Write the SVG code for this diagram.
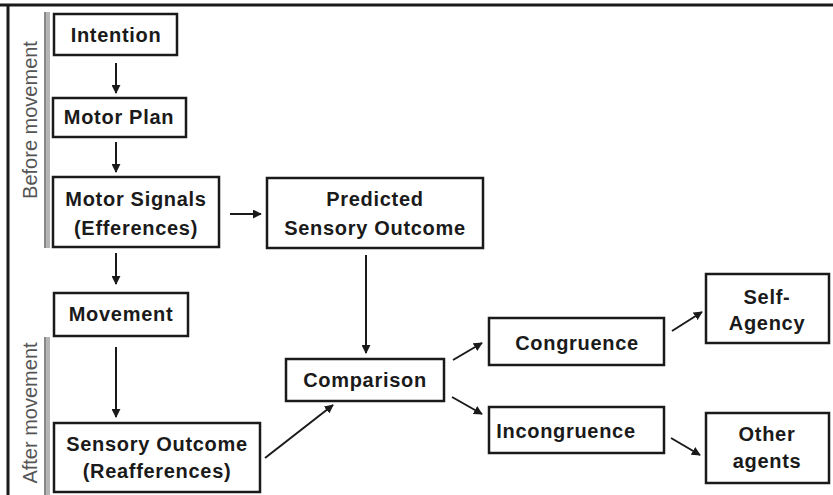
<svg xmlns="http://www.w3.org/2000/svg" width="833" height="495" viewBox="0 0 833 495">
  <style>
    .box { fill: #fff; stroke: #1a1a1a; stroke-width: 2.5; }
    .lbl { font-family: "Liberation Sans", Arial, sans-serif; font-weight: bold; font-size: 20px; fill: #1a1a1a; text-anchor: middle; letter-spacing: 0.7px; }
    .phase { font-family: "Liberation Sans", Arial, sans-serif; font-size: 20px; fill: #555; text-anchor: middle; }
    .edge { stroke: #1a1a1a; stroke-width: 2; fill: none; marker-end: url(#head); }
  </style>
  <defs>
    <marker id="head" viewBox="0 0 10 10" refX="9" refY="5" markerWidth="4.5" markerHeight="4.5" orient="auto" markerUnits="strokeWidth">
      <path d="M0,0 L10,5 L0,10 Z" fill="#1a1a1a"/>
    </marker>
  </defs>

  <rect width="833" height="495" fill="#fff"/>
  <!-- outer frame: top and left rules -->
  <line x1="0" y1="5" x2="833" y2="5" stroke="#1a1a1a" stroke-width="3"/>
  <line x1="8" y1="4" x2="8" y2="495" stroke="#1a1a1a" stroke-width="3"/>

  <!-- phase brackets -->
  <g id="phase-before">
    <rect x="44" y="12" width="6" height="236" fill="#b5b5b5"/>
    <line x1="45" y1="12" x2="45" y2="248" stroke="#7a7a7a" stroke-width="1.5"/>
    <text class="phase" transform="translate(37,120) rotate(-90)">Before movement</text>
  </g>
  <g id="phase-after">
    <rect x="44" y="337" width="6" height="158" fill="#b5b5b5"/>
    <line x1="45" y1="337" x2="45" y2="495" stroke="#7a7a7a" stroke-width="1.5"/>
    <text class="phase" transform="translate(37,413) rotate(-90)">After movement</text>
  </g>

  <g id="connectors">
    <line class="edge" x1="116" y1="63" x2="116" y2="93"/>
    <line class="edge" x1="116" y1="142" x2="116" y2="172"/>
    <line class="edge" x1="230" y1="214" x2="261" y2="214"/>
    <line class="edge" x1="116" y1="253" x2="116" y2="284"/>
    <line class="edge" x1="116" y1="347" x2="116" y2="417"/>
    <line class="edge" x1="366" y1="255" x2="366" y2="353"/>
    <line class="edge" x1="265" y1="458" x2="333" y2="405"/>
    <line class="edge" x1="453" y1="360" x2="482" y2="343"/>
    <line class="edge" x1="452" y1="397" x2="482" y2="414"/>
    <line class="edge" x1="672" y1="331" x2="702" y2="312"/>
    <line class="edge" x1="671" y1="438" x2="700" y2="455"/>
  </g>

  <g id="intention">
    <rect class="box" x="54" y="14" width="123" height="41"/>
    <text class="lbl" x="116" y="42">Intention</text>
  </g>
  <g id="motor-plan">
    <rect class="box" x="53" y="98" width="133" height="39"/>
    <text class="lbl" x="119" y="124">Motor Plan</text>
  </g>
  <g id="motor-signals">
    <rect class="box" x="53" y="177" width="166" height="70"/>
    <text class="lbl" x="136" y="206">Motor Signals</text>
    <text class="lbl" x="136" y="235">(Efferences)</text>
  </g>
  <g id="predicted">
    <rect class="box" x="267" y="178" width="216" height="70"/>
    <text class="lbl" x="375" y="206">Predicted</text>
    <text class="lbl" x="375" y="235">Sensory Outcome</text>
  </g>
  <g id="movement">
    <rect class="box" x="54" y="293" width="134" height="43"/>
    <text class="lbl" x="121" y="321">Movement</text>
  </g>
  <g id="sensory-outcome">
    <rect class="box" x="54" y="423" width="206" height="69"/>
    <text class="lbl" x="157" y="451">Sensory Outcome</text>
    <text class="lbl" x="157" y="478">(Reafferences)</text>
  </g>
  <g id="comparison">
    <rect class="box" x="286" y="359" width="158" height="42"/>
    <text class="lbl" x="365" y="387">Comparison</text>
  </g>
  <g id="congruence">
    <rect class="box" x="489" y="318" width="175" height="47"/>
    <text class="lbl" x="577" y="350">Congruence</text>
  </g>
  <g id="incongruence">
    <rect class="box" x="489" y="407" width="175" height="46"/>
    <text class="lbl" x="566" y="438">Incongruence</text>
  </g>
  <g id="self-agency">
    <rect class="box" x="706" y="274" width="123" height="69"/>
    <text class="lbl" x="767" y="304">Self-</text>
    <text class="lbl" x="767" y="330">Agency</text>
  </g>
  <g id="other-agents">
    <rect class="box" x="706" y="413" width="123" height="70"/>
    <text class="lbl" x="767" y="441">Other</text>
    <text class="lbl" x="767" y="468">agents</text>
  </g>
</svg>
